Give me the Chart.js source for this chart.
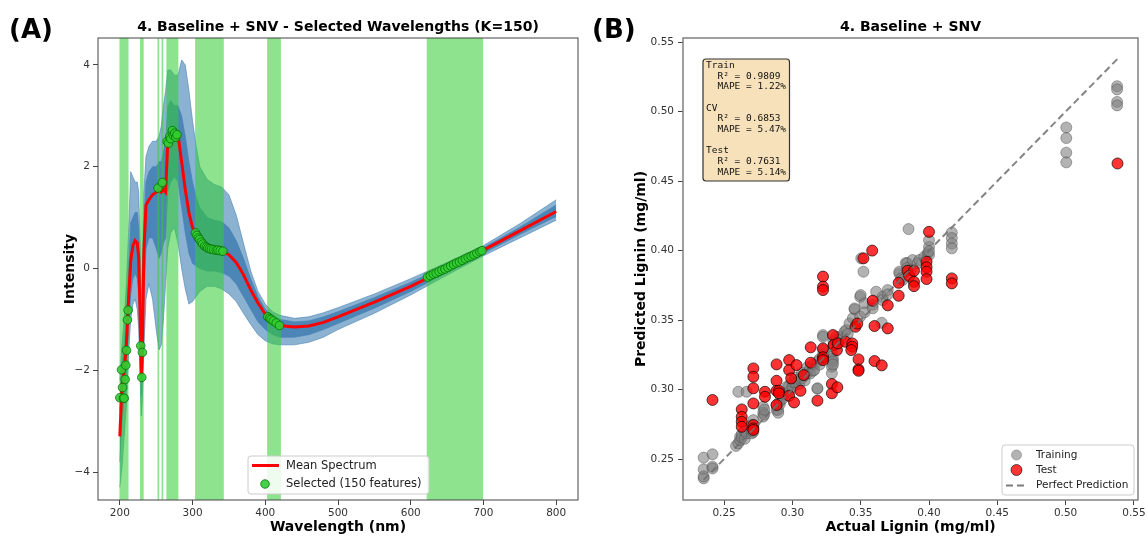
<!DOCTYPE html>
<html>
<head>
<meta charset="utf-8">
<script src="https://cdn.jsdelivr.net/npm/chart.js@4.4.1/dist/chart.umd.min.js"></script>
<style>
  html, body { margin: 0; padding: 0; background: #fff; }
  #wrap { position: relative; width: 1148px; height: 536px; }
  #wrap canvas { position: absolute; top: 0; }
</style>
</head>
<body>
<div id="wrap">
  <canvas id="spectra" width="590" height="536" style="left:0"></canvas>
  <canvas id="scatter" width="558" height="536" style="left:590px"></canvas>
</div>
<script>
Chart.defaults.font.family = "'DejaVu Sans', sans-serif";
Chart.defaults.color = "#333";

// (A) spectra after baseline + SNV
const wavelengths = [200, 203, 206, 209, 212, 215, 218, 221, 224, 226, 228, 229.5, 231, 233, 236, 240, 245, 250, 254, 257,
  260, 263, 266, 270, 275, 280, 285, 290, 295, 300, 305, 310, 320, 330, 340, 350, 360, 370, 380, 390,
  400, 410, 420, 440, 460, 480, 500, 550, 600, 650, 700, 750, 800];
const meanSpectrum = [-3.3, -2.3, -2.0, -1.5, -0.6, 0.15, 0.45, 0.55, 0.5, 0.2, -1.0, -2.1, -1.7, 0.3, 1.25, 1.35, 1.45, 1.5, 1.55, 1.5,
  1.55, 1.5, 2.5, 2.6, 2.65, 2.62, 2.1, 1.55, 1.1, 0.8, 0.68, 0.56, 0.41, 0.36, 0.34, 0.27, 0.12, -0.12, -0.42, -0.68,
  -0.9, -1.03, -1.12, -1.15, -1.13, -1.06, -0.95, -0.66, -0.35, 0.0, 0.36, 0.74, 1.12];
const spreadHigh = [-2.2, -1.5, -1.0, -0.3, 0.7, 1.9, 1.8, 1.7, 1.7, 1.5, 0.5, -0.6, 0.0, 1.5, 2.2, 2.4, 2.5, 2.5, 2.6, 2.8,
  3.2, 3.5, 3.9, 3.9, 3.8, 3.8, 4.1, 4.0, 3.5, 2.9, 2.4, 2.0, 1.75, 1.65, 1.6, 1.45, 1.05, 0.5, -0.05, -0.45,
  -0.7, -0.85, -0.92, -0.98, -0.95, -0.87, -0.77, -0.5, -0.2, 0.12, 0.45, 0.88, 1.35];
const spreadLow = [-4.3, -3.9, -3.3, -2.7, -1.7, -1.0, -0.7, -0.6, -0.8, -1.2, -2.2, -2.9, -2.6, -1.6, -0.6, -0.3, -0.6, -1.2, -1.6, -1.5,
  -1.0, -0.3, 0.4, 0.7, 0.8, 0.5, 0.0, -0.4, -0.7, -0.65, -0.55, -0.45, -0.35, -0.35, -0.4, -0.5, -0.65, -0.88, -1.1, -1.3,
  -1.42, -1.48, -1.5, -1.5, -1.45, -1.35, -1.2, -0.88, -0.52, -0.13, 0.25, 0.6, 0.95];
const coreHigh = [-2.8, -1.9, -1.5, -0.9, 0.0, 0.9, 1.0, 1.1, 1.1, 0.8, -0.3, -1.4, -0.9, 0.9, 1.7, 1.9, 2.0, 2.0, 2.1, 2.1,
  2.3, 2.5, 3.2, 3.3, 3.2, 3.2, 3.0, 2.6, 2.1, 1.7, 1.4, 1.2, 1.0, 0.95, 0.92, 0.8, 0.55, 0.2, -0.2, -0.55,
  -0.8, -0.93, -1.0, -1.05, -1.03, -0.95, -0.85, -0.57, -0.27, 0.06, 0.41, 0.81, 1.25];
const coreLow = [-3.8, -3.0, -2.6, -2.1, -1.2, -0.5, -0.2, -0.1, -0.2, -0.5, -1.6, -2.5, -2.2, -0.6, 0.4, 0.6, 0.6, 0.4, 0.2, 0.3,
  0.5, 0.6, 1.5, 1.7, 1.8, 1.7, 1.2, 0.7, 0.3, 0.1, 0.05, 0.0, -0.05, -0.05, -0.08, -0.15, -0.3, -0.55, -0.8, -1.05,
  -1.2, -1.3, -1.35, -1.35, -1.3, -1.2, -1.08, -0.78, -0.45, -0.08, 0.3, 0.67, 1.02];

const selectedWl = [200, 202.3, 203.7, 205, 206, 207.3, 208.2, 209.2, 210.5, 211.4,
  228.8, 230.2, 231, 252.5, 258.5,
  265, 266.8, 268.6, 270, 272.3, 273.5, 275.4, 277, 278.6,
  304, 306, 308, 309.7, 312, 314, 316.6, 319, 321, 323.5, 326, 329, 332.6, 335, 338, 341.7,
  403.5, 406, 408, 411, 415, 419.5,
  623, 627, 631, 635, 639, 643, 647, 651, 655, 659, 663, 667, 671, 675, 679, 683, 687, 691, 695, 698];
const selectedInt = [-2.54, -1.99, -2.34, -2.55, -2.55, -2.18, -1.90, -1.61, -1.01, -0.82,
  -1.52, -2.14, -1.65, 1.58, 1.69,
  2.50, 2.46, 2.59, 2.55, 2.71, 2.62, 2.66, 2.58, 2.63,
  0.70, 0.65, 0.60, 0.57, 0.52, 0.48, 0.44, 0.42, 0.40, 0.39, 0.38, 0.37, 0.36, 0.36, 0.35, 0.34,
  -0.95, -0.98, -1.0, -1.03, -1.07, -1.12,
  -0.17, -0.14, -0.11, -0.09, -0.06, -0.03, -0.01, 0.02, 0.05, 0.08, 0.11, 0.13, 0.16, 0.19, 0.22, 0.24, 0.27, 0.30, 0.33, 0.35];
// selected wavelength ranges [from, to] in nm
const selectedBands = [[199.5, 212], [227.8, 232.8], [251.8, 254.2], [257.4, 259.8], [264, 280.5], [303.5, 343], [402.5, 421.5], [622, 699.5]];
const wlTicks = [200, 300, 400, 500, 600, 700, 800];
const intensityTicks = [-4, -2, 0, 2, 4];

// (B) predicted vs actual lignin
const trainActual = [0.235, 0.235, 0.235, 0.235, 0.2415, 0.2415, 0.2415, 0.2587, 0.2604, 0.2604,
  0.2617, 0.2617, 0.263, 0.263, 0.2651, 0.2651, 0.2665, 0.2665, 0.2702, 0.2702,
  0.2702, 0.2714, 0.2714, 0.2786, 0.2786, 0.2786, 0.2794, 0.2794, 0.2884, 0.2884,
  0.2896, 0.2896, 0.2908, 0.2908, 0.293, 0.293, 0.296, 0.296, 0.2976, 0.2976,
  0.300, 0.300, 0.302, 0.302, 0.305, 0.305, 0.307, 0.307, 0.309, 0.309,
  0.311, 0.311, 0.313, 0.313, 0.315, 0.315, 0.316, 0.3183, 0.3183, 0.3183,
  0.320, 0.320, 0.3224, 0.3224, 0.3224, 0.3224, 0.3224, 0.3289, 0.3289, 0.3289,
  0.3289, 0.3297, 0.3297, 0.3297, 0.330, 0.330, 0.332, 0.332, 0.335, 0.335,
  0.3382, 0.3394, 0.3405, 0.3418, 0.3443, 0.3455, 0.3455, 0.3496, 0.3496, 0.350,
  0.3504, 0.352, 0.3528, 0.3528, 0.3588, 0.3588, 0.3613, 0.3654, 0.366, 0.366,
  0.3698, 0.3698, 0.3783, 0.3783, 0.3796, 0.3806, 0.383, 0.384, 0.384, 0.385,
  0.3868, 0.388, 0.3916, 0.3929, 0.3965, 0.399, 0.400, 0.400, 0.400, 0.400,
  0.4167, 0.4167, 0.4167, 0.4167, 0.5005, 0.5005, 0.5005, 0.5005, 0.5377, 0.5377,
  0.5377, 0.5377];
const trainPred = [0.251, 0.2426, 0.2361, 0.2375, 0.2534, 0.2445, 0.2432, 0.2594, 0.2613, 0.2984,
  0.266, 0.2635, 0.268, 0.2655, 0.2645, 0.2702, 0.2685, 0.2984, 0.2684, 0.2705,
  0.2745, 0.278, 0.2695, 0.2876, 0.2833, 0.2805, 0.282, 0.2855, 0.2853, 0.2885,
  0.2853, 0.2833, 0.2895, 0.2915, 0.295, 0.2935, 0.298, 0.302, 0.2985, 0.3025,
  0.302, 0.3055, 0.305, 0.3085, 0.304, 0.3075, 0.308, 0.312, 0.310, 0.3065,
  0.312, 0.316, 0.315, 0.3115, 0.318, 0.3135, 0.314, 0.320, 0.3006, 0.3009,
  0.322, 0.318, 0.3392, 0.3379, 0.325, 0.3285, 0.3225, 0.326, 0.3212, 0.3164,
  0.3117, 0.3224, 0.3202, 0.318, 0.332, 0.335, 0.335, 0.338, 0.338, 0.3355,
  0.3416, 0.3428, 0.340, 0.3476, 0.3514, 0.3577, 0.3584, 0.3667, 0.3525, 0.368,
  0.3944, 0.3848, 0.362, 0.3555, 0.361, 0.3585, 0.3704, 0.348, 0.3667, 0.3644,
  0.3716, 0.3685, 0.3836, 0.3848, 0.380, 0.3788, 0.391, 0.391, 0.3875, 0.4155,
  0.386, 0.3932, 0.391, 0.3932, 0.3955, 0.398, 0.4027, 0.4075, 0.3968, 0.3995,
  0.413, 0.409, 0.405, 0.4016, 0.4886, 0.481, 0.4705, 0.4635, 0.5183, 0.516,
  0.507, 0.5045];
const testActual = [0.2415, 0.2629, 0.2629, 0.2629, 0.2629, 0.2714, 0.2714, 0.2714, 0.2714, 0.2714,
  0.2714, 0.2714, 0.2799, 0.2799, 0.2884, 0.2884, 0.2884, 0.2884, 0.2901, 0.2901,
  0.2976, 0.2976, 0.2991, 0.2976, 0.303, 0.3012, 0.3059, 0.3083, 0.3134, 0.3134,
  0.3183, 0.3224, 0.3224, 0.3224, 0.3224, 0.3224, 0.3224, 0.3289, 0.3289, 0.3329,
  0.3297, 0.3302, 0.3326, 0.3333, 0.3389, 0.3438, 0.3438, 0.3462, 0.3475, 0.3484,
  0.3484, 0.3484, 0.3431, 0.3601, 0.3601, 0.3654, 0.3698, 0.3698, 0.3588, 0.352,
  0.3584, 0.3778, 0.3778, 0.3843, 0.3855, 0.389, 0.389, 0.389, 0.3982, 0.3982,
  0.3982, 0.3982, 0.400, 0.4167, 0.4167, 0.538];
const testPred = [0.2925, 0.2857, 0.2804, 0.2768, 0.2732, 0.3152, 0.3092, 0.3009, 0.290, 0.2745,
  0.272, 0.2709, 0.2984, 0.2948, 0.3181, 0.3063, 0.2991, 0.2889, 0.2991, 0.2973,
  0.3212, 0.314, 0.308, 0.2955, 0.3176, 0.2907, 0.2991, 0.3104, 0.3304, 0.3193,
  0.292, 0.3813, 0.374, 0.3716, 0.3296, 0.3232, 0.3212, 0.304, 0.2973, 0.3016,
  0.3392, 0.332, 0.3284, 0.3332, 0.3344, 0.3332, 0.3308, 0.3452, 0.3475, 0.3217,
  0.3145, 0.3135, 0.3284, 0.3457, 0.3205, 0.3174, 0.344, 0.3606, 0.3639, 0.3944,
  0.400, 0.3768, 0.3675, 0.3855, 0.3817, 0.3855, 0.3775, 0.3744, 0.392, 0.388,
  0.3848, 0.3795, 0.4135, 0.380, 0.3764, 0.4627];
const identityLine = [0.235, 0.538];
const ligninTicks = [0.25, 0.30, 0.35, 0.40, 0.45, 0.50, 0.55];
const scoreNames = ["Train", "CV", "Test"];
const scoreR2 = ["0.9809", "0.6853", "0.7631"];
const scoreMape = ["1.22%", "5.47%", "5.14%"];

const xy = (xs, ys) => xs.map((x, i) => ({x, y: ys[i]}));
const minus = v => (v < 0 ? "\u2212" + Math.abs(v) : String(v));

function linearAxis(min, max, ticks, title, fmt, horizontal, size, pad) {
  return {
    type: "linear",
    min, max,
    afterBuildTicks: s => { s.ticks = ticks.map(v => ({value: v})); },
    afterFit: s => { if (horizontal) s.height = size; else s.width = size; },
    ticks: {font: {size: 10.5}, color: "#333", padding: pad, autoSkip: false, maxRotation: 0, callback: fmt},
    grid: {display: true, drawOnChartArea: false, drawTicks: true, tickLength: 5, color: "#444"},
    border: {display: false},
    title: {display: true, text: title, color: "#000", font: {size: 14, weight: "bold"},
      padding: horizontal ? {top: 0, bottom: 0} : {top: 2, bottom: 0}},
  };
}

function frame(ctx, a, color, width) {
  ctx.save();
  ctx.strokeStyle = color;
  ctx.lineWidth = width;
  ctx.strokeRect(a.left, a.top, a.right - a.left, a.bottom - a.top);
  ctx.restore();
}

function legendBox(ctx, x, y, w, h) {
  ctx.fillStyle = "rgba(255,255,255,0.85)";
  ctx.strokeStyle = "#cccccc";
  ctx.lineWidth = 1;
  ctx.beginPath();
  ctx.roundRect(x, y, w, h, 3);
  ctx.fill();
  ctx.stroke();
}

// green spans over the spectra, under the mean line
const bandsPlugin = {
  id: "bands",
  beforeDatasetDraw(chart, args) {
    if (args.index !== 1) return;
    const {ctx, chartArea: a, scales: {x}} = chart;
    ctx.save();
    ctx.beginPath();
    ctx.rect(a.left, a.top, a.right - a.left, a.bottom - a.top);
    ctx.clip();
    ctx.fillStyle = "rgba(50,205,50,0.55)";
    for (const [lo, hi] of selectedBands) {
      const x0 = x.getPixelForValue(lo);
      const x1 = x.getPixelForValue(hi);
      ctx.fillRect(x0, a.top, x1 - x0, a.bottom - a.top);
    }
    ctx.restore();
  },
};

const spectraDecor = {
  id: "spectraDecor",
  afterDraw(chart) {
    const {ctx, chartArea: a} = chart;
    frame(ctx, a, "#444", 1);
    ctx.save();
    ctx.fillStyle = "#000";
    ctx.textBaseline = "middle";
    ctx.textAlign = "center";
    ctx.font = "bold 14px 'DejaVu Sans'";
    ctx.fillText("4. Baseline + SNV - Selected Wavelengths (K=150)", (a.left + a.right) / 2, 27);
    ctx.textAlign = "left";
    ctx.font = "bold 26px 'DejaVu Sans'";
    ctx.fillText("(A)", 9, 31);

    legendBox(ctx, 248, 456, 181, 38);
    ctx.strokeStyle = "red";
    ctx.lineWidth = 3;
    ctx.beginPath();
    ctx.moveTo(252, 465.5);
    ctx.lineTo(279, 465.5);
    ctx.stroke();
    ctx.fillStyle = "rgba(50,205,50,0.9)";
    ctx.strokeStyle = "darkgreen";
    ctx.lineWidth = 0.7;
    ctx.beginPath();
    ctx.arc(265, 484, 4.3, 0, Math.PI * 2);
    ctx.fill();
    ctx.stroke();
    ctx.fillStyle = "#222";
    ctx.font = "11.5px 'DejaVu Sans'";
    ctx.fillText("Mean Spectrum", 286, 466);
    ctx.fillText("Selected (150 features)", 286, 484);
    ctx.restore();
  },
};

const scatterDecor = {
  id: "scatterDecor",
  afterDraw(chart) {
    const {ctx, chartArea: a} = chart;
    frame(ctx, a, "#808080", 1.5);
    ctx.save();
    ctx.fillStyle = "#000";
    ctx.textBaseline = "middle";
    ctx.textAlign = "center";
    ctx.font = "bold 14px 'DejaVu Sans'";
    ctx.fillText("4. Baseline + SNV", (a.left + a.right) / 2, 27);
    ctx.textAlign = "left";
    ctx.font = "bold 26px 'DejaVu Sans'";
    ctx.fillText("(B)", 2, 31);

    // score box
    ctx.fillStyle = "rgba(245,222,179,0.9)";
    ctx.strokeStyle = "#333";
    ctx.lineWidth = 1.2;
    ctx.beginPath();
    ctx.roundRect(113, 59, 86.5, 122, 3);
    ctx.fill();
    ctx.stroke();
    ctx.fillStyle = "#111";
    ctx.font = "9.5px 'DejaVu Sans Mono'";
    let y = 65.7;
    scoreNames.forEach((name, i) => {
      ctx.fillText(name, 116, y);
      ctx.fillText("  R\u00b2 = " + scoreR2[i], 116, y + 10.66);
      ctx.fillText("  MAPE = " + scoreMape[i], 116, y + 21.32);
      y += 42.64;
    });

    // legend
    legendBox(ctx, 412, 445, 132, 50);
    ctx.lineWidth = 0.8;
    ctx.fillStyle = "rgba(128,128,128,0.6)";
    ctx.strokeStyle = "rgba(90,90,90,0.5)";
    ctx.beginPath();
    ctx.arc(426.5, 455, 5, 0, Math.PI * 2);
    ctx.fill();
    ctx.stroke();
    ctx.fillStyle = "rgba(255,0,0,0.8)";
    ctx.strokeStyle = "rgba(0,0,0,0.75)";
    ctx.beginPath();
    ctx.arc(426.5, 470, 5.5, 0, Math.PI * 2);
    ctx.fill();
    ctx.stroke();
    ctx.strokeStyle = "rgba(110,110,110,0.9)";
    ctx.lineWidth = 2;
    ctx.setLineDash([7, 4]);
    ctx.beginPath();
    ctx.moveTo(416, 485.5);
    ctx.lineTo(437, 485.5);
    ctx.stroke();
    ctx.setLineDash([]);
    ctx.fillStyle = "#222";
    ctx.font = "10.5px 'DejaVu Sans'";
    ctx.fillText("Training", 446, 455);
    ctx.fillText("Test", 446, 470);
    ctx.fillText("Perfect Prediction", 446, 485.5);
    ctx.restore();
  },
};

new Chart(document.getElementById("spectra"), {
  type: "line",
  data: {
    datasets: [
      {type: "scatter", label: "Selected (150 features)", data: xy(selectedWl, selectedInt),
        pointRadius: 4.3, pointBackgroundColor: "rgba(50,205,50,0.9)", pointBorderColor: "darkgreen",
        pointBorderWidth: 0.7, order: 0},
      {label: "Mean Spectrum", data: xy(wavelengths, meanSpectrum), borderColor: "red", borderWidth: 3,
        pointRadius: 0, order: 1},
      {data: xy(wavelengths, spreadHigh), borderColor: "rgba(70,130,180,0.75)", borderWidth: 0.8,
        backgroundColor: "rgba(70,130,180,0.62)", fill: "+1", pointRadius: 0, order: 3},
      {data: xy(wavelengths, spreadLow), borderColor: "rgba(70,130,180,0.75)", borderWidth: 0.8,
        fill: false, pointRadius: 0, order: 3},
      {data: xy(wavelengths, coreHigh), borderColor: "rgba(70,130,180,0.85)", borderWidth: 0.8,
        backgroundColor: "rgba(70,130,180,0.9)", fill: "+1", pointRadius: 0, order: 2},
      {data: xy(wavelengths, coreLow), borderColor: "rgba(70,130,180,0.85)", borderWidth: 0.8,
        fill: false, pointRadius: 0, order: 2},
    ],
  },
  options: {
    responsive: false,
    animation: false,
    events: [],
    layout: {padding: {left: 60, right: 12, top: 38, bottom: 0}},
    plugins: {legend: {display: false}, tooltip: {enabled: false}},
    scales: {
      x: linearAxis(170, 830, wlTicks, "Wavelength (nm)", v => String(v), true, 36, 2),
      y: linearAxis(-4.55, 4.53, intensityTicks, "Intensity", minus, false, 38, 3),
    },
  },
  plugins: [bandsPlugin, spectraDecor],
});

new Chart(document.getElementById("scatter"), {
  type: "scatter",
  data: {
    datasets: [
      {type: "line", label: "Perfect Prediction", data: xy(identityLine, identityLine),
        borderColor: "rgba(110,110,110,0.85)", borderWidth: 2, borderDash: [7, 4], pointRadius: 0, order: 0},
      {label: "Test", data: xy(testActual, testPred), pointRadius: 5.5,
        backgroundColor: "rgba(255,0,0,0.8)", borderColor: "rgba(0,0,0,0.75)", borderWidth: 0.9, order: 1},
      {label: "Training", data: xy(trainActual, trainPred), pointRadius: 5.5,
        backgroundColor: "rgba(128,128,128,0.6)", borderColor: "rgba(70,70,70,0.55)", borderWidth: 0.8, order: 2},
    ],
  },
  options: {
    responsive: false,
    animation: false,
    events: [],
    layout: {padding: {left: 41, right: 10, top: 38, bottom: 0}},
    plugins: {legend: {display: false}, tooltip: {enabled: false}},
    scales: {
      x: linearAxis(0.2199, 0.553, ligninTicks, "Actual Lignin (mg/ml)", v => v.toFixed(2), true, 36, 2),
      y: linearAxis(0.2205, 0.553, ligninTicks, "Predicted Lignin (mg/ml)", v => v.toFixed(2), false, 52, 4),
    },
  },
  plugins: [scatterDecor],
});
</script>
</body>
</html>
